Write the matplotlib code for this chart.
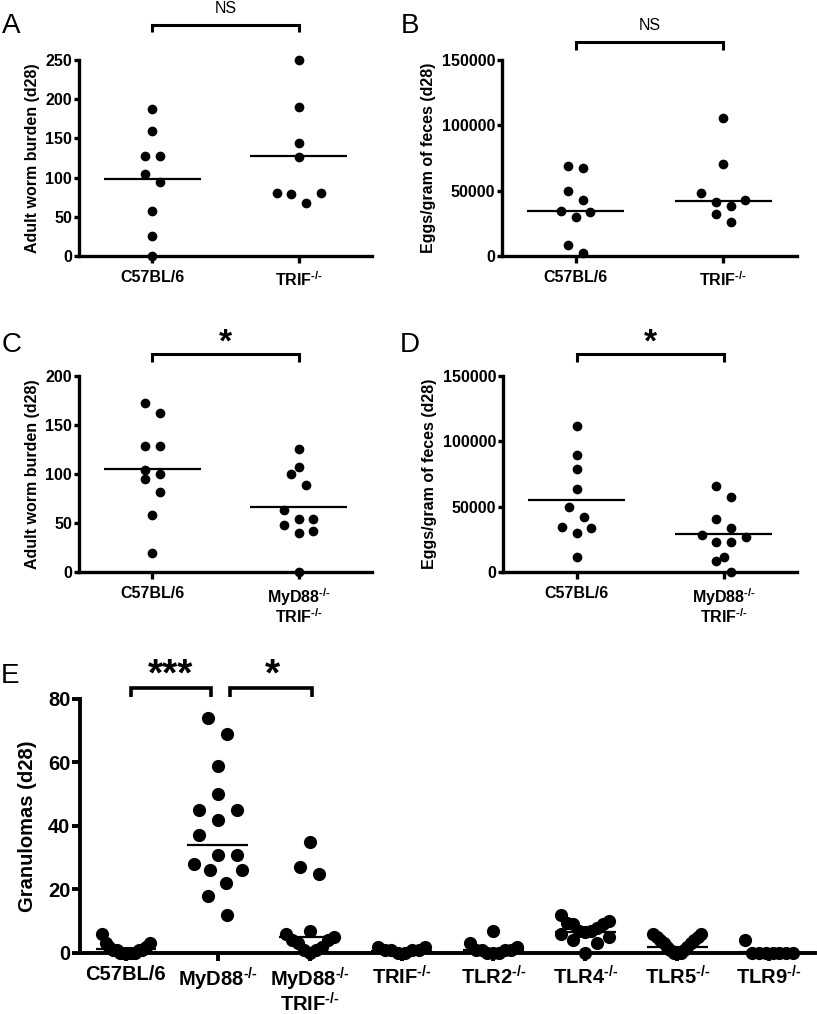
import numpy as np
import matplotlib.pyplot as plt

plt.rcParams['font.family'] = ['Liberation Sans', 'DejaVu Sans']
plt.rcParams['mathtext.fontset'] = 'custom'
plt.rcParams['mathtext.rm'] = 'Liberation Sans:bold'
plt.rcParams['mathtext.it'] = 'Liberation Sans:bold'
plt.rcParams['mathtext.bf'] = 'Liberation Sans:bold'
plt.rcParams['mathtext.sf'] = 'Liberation Sans:bold'
plt.rcParams['mathtext.default'] = 'bf'

SUP = r'$^{\text{-/-}}$'

# panel A / B : C57BL/6 vs TRIF-/-
ab_groups = ['C57BL/6', 'TRIF' + SUP]
a_wt = [187, 160, 128, 128, 104, 94, 58, 25, 0]
a_trif = [250, 190, 144, 126, 81, 80, 79, 68]
a_lines = [98, 128]
b_wt = [69000, 67700, 50100, 42700, 34800, 33700, 29600, 8700, 2600]
b_trif = [105800, 70300, 48000, 43200, 41600, 38300, 32500, 25800]
b_lines = [34500, 42400]

# panel C / D : C57BL/6 vs MyD88-/- TRIF-/-
cd_groups = ['C57BL/6', 'MyD88' + SUP + '\nTRIF' + SUP]
c_wt = [172, 162, 129, 129, 104, 100, 95, 82, 58, 19]
c_dko = [126, 107, 100, 89, 63, 54, 54, 48, 42, 40, 0]
c_lines = [105, 66]
d_wt = [111700, 89300, 78800, 63800, 50000, 42100, 34700, 33700, 29600, 11700]
d_dko = [66100, 57700, 40600, 33700, 28100, 26800, 23200, 22700, 11200, 8400, 0]
d_lines = [54800, 29100]

# panel E : granulomas
e_groups = ['C57BL/6', 'MyD88' + SUP, 'MyD88' + SUP + '\nTRIF' + SUP, 'TRIF' + SUP,
            'TLR2' + SUP, 'TLR4' + SUP, 'TLR5' + SUP, 'TLR9' + SUP]
e_wt = [6, 3, 3, 2, 2, 1, 1, 1, 1, 0, 0, 0, 0, 0]
e_myd88 = [74, 69, 59, 50, 45, 45, 42, 37, 31, 31, 28, 26, 26, 22, 18, 12]
e_dko = [35, 27, 25, 7, 6, 5, 4, 4, 3, 2, 1, 1, 0]
e_trif = [2, 2, 1, 1, 1, 1, 0, 0]
e_tlr2 = [7, 3, 2, 1, 1, 1, 1, 0, 0, 0]
e_tlr4 = [12, 10, 9.5, 9, 9, 8, 7, 7, 6.5, 6, 5, 4, 3, 0]
e_tlr5 = [6, 6, 5, 5, 4, 4, 3, 3, 2, 2, 1, 1, 0, 0, 0]
e_tlr9 = [4, 0, 0, 0, 0, 0, 0, 0]
e_lines = [1.2, 34, 5, 0.5, 1, 6.7, 2, 0.3]


def prism_scatter(ax, xc, vals, ms, row_px, step_px, max_half):
    # rows of nearby values, spread symmetrically like a Prism dot plot
    p0 = ax.transData.transform((0, 0))
    p1 = ax.transData.transform((1, 1))
    px_x = p1[0] - p0[0]
    px_y = p1[1] - p0[1]
    rows = []
    for v in sorted(vals):
        if rows and (v - rows[-1][0]) * px_y <= row_px:
            rows[-1].append(v)
        else:
            rows.append([v])
    xs, ys = [], []
    for row in rows:
        n = len(row)
        step = min(step_px / px_x, 2 * max_half / (n - 1)) if n > 1 else 0
        slots = [(i - (n - 1) / 2) * step for i in range(n)]
        slots.sort(key=lambda s: (-abs(s), s))
        for v, s in zip(sorted(row, reverse=True), slots):
            xs.append(xc + s)
            ys.append(v)
    ax.plot(xs, ys, 'o', color='black', ms=ms, mew=0, clip_on=False, zorder=4)


def bracket(ax, x1, x2, y_top, y_bot, lw):
    tr = ax.get_xaxis_transform()
    ax.plot([x1, x1, x2, x2], [y_bot, y_top, y_top, y_bot], color='black', lw=lw,
            transform=tr, clip_on=False, solid_joinstyle='miter', solid_capstyle='butt')


def panel(rect, groups, series, lines, ylim, yticks, ylabel, fs, ms, spine, xtl, ytl,
          row_px, step_px, max_half, line_half, labelpad, xpad=5):
    ax = fig.add_axes(rect)
    ax.set_xlim(-0.5, len(groups) - 0.5)
    ax.set_ylim(*ylim)
    for side in ['top', 'right']:
        ax.spines[side].set_visible(False)
    for side in ['left', 'bottom']:
        ax.spines[side].set_linewidth(spine)
    ax.set_xticks(range(len(groups)))
    ax.set_xticklabels(groups, fontsize=fs, fontweight='bold', linespacing=1.0)
    ax.set_yticks(yticks)
    ax.set_yticklabels([str(t) for t in yticks], fontsize=fs, fontweight='bold')
    ax.tick_params(axis='x', length=xtl, width=spine, pad=xpad)
    ax.tick_params(axis='y', length=ytl, width=spine, pad=1.5)
    ax.set_ylabel(ylabel, fontsize=fs, fontweight='bold', labelpad=labelpad)
    for i, vals in enumerate(series):
        prism_scatter(ax, i, vals, ms, row_px, step_px, max_half)
        ax.plot([i - line_half, i + line_half], [lines[i], lines[i]], color='black',
                lw=1.6, zorder=3, solid_capstyle='butt')
    return ax


fig = plt.figure(figsize=(8.17, 10.14), dpi=100)

small = dict(fs=11.5, ms=7, spine=2.4, xtl=5, ytl=3.5, row_px=13, step_px=14.7,
             max_half=0.3, line_half=0.33)

axA = panel([0.0967, 0.7475, 0.3586, 0.1933], ab_groups, [a_wt, a_trif], a_lines,
            (0, 250), [0, 50, 100, 150, 200, 250], 'Adult worm burden (d28)',
            labelpad=4, **small)
axB = panel([0.6144, 0.7475, 0.3611, 0.1933], ab_groups, [b_wt, b_trif], b_lines,
            (0, 150000), [0, 50000, 100000, 150000], 'Eggs/gram of feces (d28)',
            labelpad=4, **small)
axC = panel([0.0967, 0.4359, 0.3586, 0.1933], cd_groups, [c_wt, c_dko], c_lines,
            (0, 200), [0, 50, 100, 150, 200], 'Adult worm burden (d28)',
            labelpad=4, **small)
axD = panel([0.6157, 0.4359, 0.3599, 0.1933], cd_groups, [d_wt, d_dko], d_lines,
            (0, 150000), [0, 50000, 100000, 150000], 'Eggs/gram of feces (d28)',
            labelpad=4, **small)
axE = panel([0.0979, 0.0602, 0.8997, 0.2505], e_groups,
            [e_wt, e_myd88, e_dko, e_trif, e_tlr2, e_tlr4, e_tlr5, e_tlr9], e_lines,
            (0, 80), [0, 20, 40, 60, 80], 'Granulomas (d28)', fs=14.5, ms=9.5, spine=2.8,
            xtl=6, ytl=5.5, row_px=19.5, step_px=19, max_half=0.26, line_half=0.33,
            labelpad=8, xpad=3)

# significance brackets
bracket(axA, 0, 1, 1.178, 1.143, 2.2)
axA.text(0.5, 1.225, 'NS', transform=axA.get_xaxis_transform(), ha='center',
         va='bottom', fontsize=11.5)
bracket(axB, 0, 1, 1.092, 1.051, 2.2)
axB.text(0.5, 1.14, 'NS', transform=axB.get_xaxis_transform(), ha='center',
         va='bottom', fontsize=11.5)
bracket(axC, 0, 1, 1.112, 1.071, 2.2)
axC.text(0.5, 1.09, '*', transform=axC.get_xaxis_transform(), ha='center',
         va='bottom', fontsize=24, fontweight='bold')
bracket(axD, 0, 1, 1.112, 1.071, 2.2)
axD.text(0.5, 1.09, '*', transform=axD.get_xaxis_transform(), ha='center',
         va='bottom', fontsize=24, fontweight='bold')
bracket(axE, 0.05, 0.93, 1.043, 1.008, 2.6)
axE.text(0.49, 1.02, '***', transform=axE.get_xaxis_transform(), ha='center',
         va='bottom', fontsize=28, fontweight='bold')
bracket(axE, 1.13, 2.02, 1.043, 1.008, 2.6)
axE.text(1.6, 1.02, '*', transform=axE.get_xaxis_transform(), ha='center',
         va='bottom', fontsize=28, fontweight='bold')

# panel letters
for letter, x, y in [('A', 2, 33), ('B', 401, 33), ('C', 2, 352), ('D', 400, 352),
                     ('E', 1, 683)]:
    fig.text(x / 817, 1 - y / 1014, letter, fontsize=20, ha='left', va='baseline')

fig.savefig('out.png', dpi=100)
